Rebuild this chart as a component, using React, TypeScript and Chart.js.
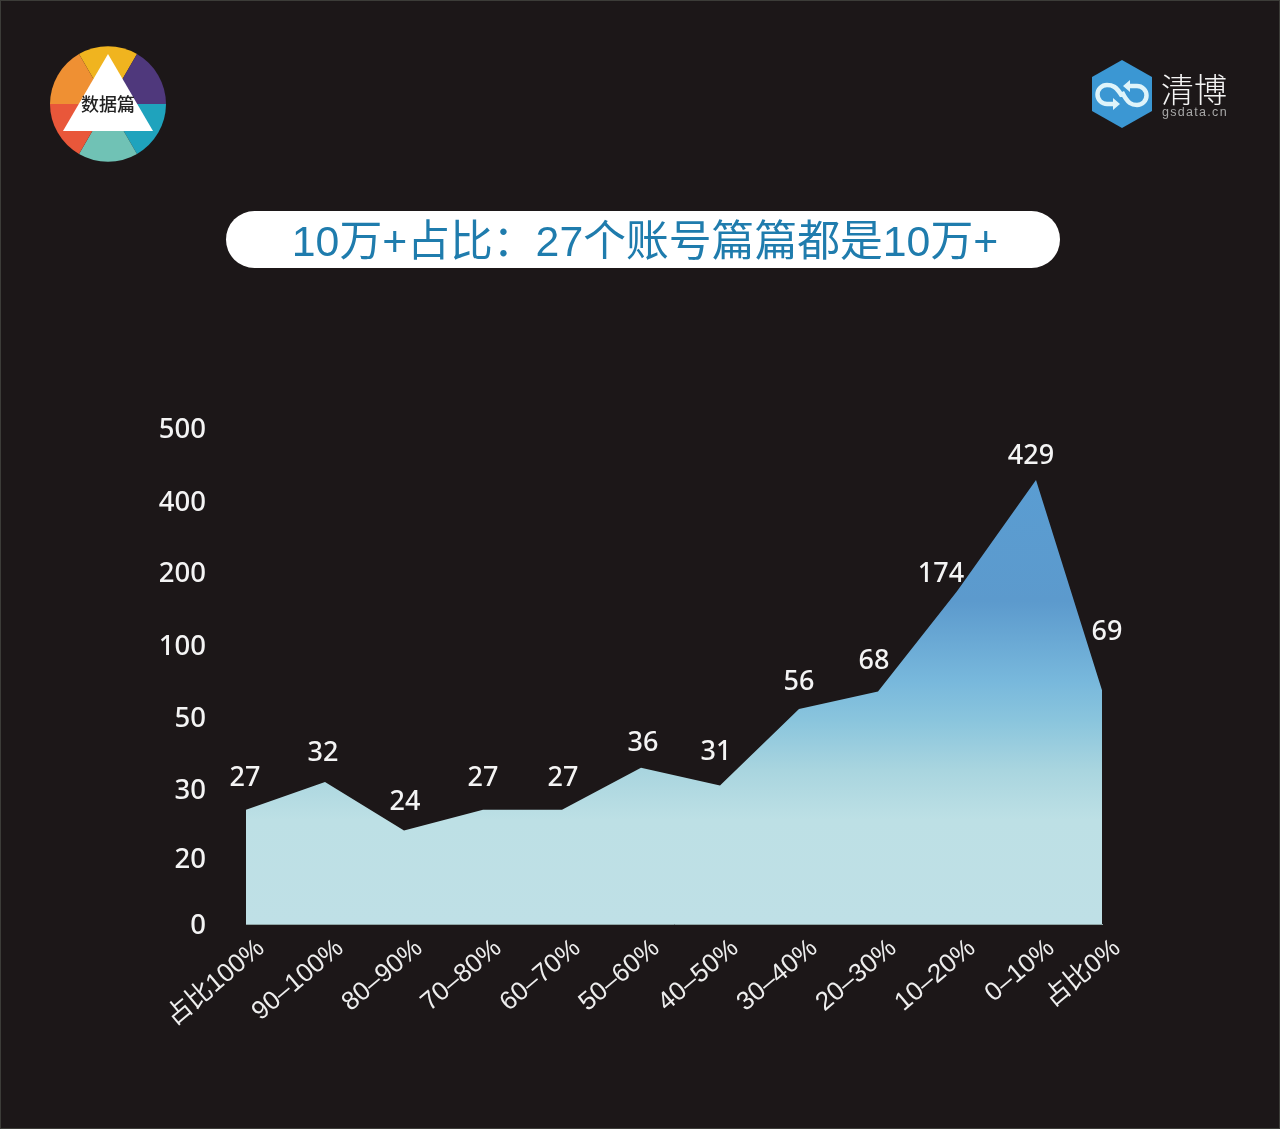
import { useEffect, useRef } from 'react'
import { Chart, registerables, CategoryScale, LinearScale } from 'chart.js'

const categories = ['占比100%', '90–100%', '80–90%', '70–80%', '60–70%', '50–60%', '40–50%', '30–40%', '20–30%', '10–20%', '0–10%', '占比0%']
const accounts = [27, 32, 24, 27, 27, 36, 31, 56, 68, 174, 429, 69]
const yTicks = [0, 20, 30, 50, 100, 200, 400, 500]
// the source axis is not linear, each tick sits at its own height (share of the axis)
const yTickShare = [0, 0.133, 0.272, 0.416, 0.562, 0.709, 0.852, 1]
const labelNudgeX = [-1, -2, 1, 0, 1, 2, -4, 0, -4, -16, -5, 5]
const labelNudgeY = [-31, -29, -28, -31, -31, -24, -33, -27, -30, -17, -24, -58]

const TITLE = '10万+占比：27个账号篇篇都是10万+'
const LABEL_FONT = '"Noto Sans", sans-serif'

class StopScale extends LinearScale {
  static id = 'stops'
  static defaults = LinearScale.defaults
  buildTicks() {
    return yTicks.map((value) => ({ value }))
  }
  getPixelForValue(value: number) {
    let i = 0
    while (i < yTicks.length - 2 && value > yTicks[i + 1]) i++
    const t = (value - yTicks[i]) / (yTicks[i + 1] - yTicks[i])
    const share = yTickShare[i] + t * (yTickShare[i + 1] - yTickShare[i])
    return this.bottom - share * (this.bottom - this.top)
  }
}

// categories keep a fixed step, the last one gets cut off by the right edge
class CutCategoryScale extends CategoryScale {
  static id = 'cutCategory'
  static defaults = CategoryScale.defaults
  getPixelForValue(value: any) {
    const i = typeof value === 'number' ? value : this.parse(value)
    return Math.min(this.left + (i as number) * 79, this.right)
  }
}

Chart.register(...registerables, StopScale, CutCategoryScale)

const dataLabels = {
  id: 'dataLabels',
  afterDatasetsDraw(chart: Chart) {
    const { ctx } = chart
    const points = chart.getDatasetMeta(0).data
    ctx.save()
    ctx.font = `500 27px ${LABEL_FONT}`
    ctx.fillStyle = '#f4f4f4'
    ctx.textAlign = 'center'
    ctx.textBaseline = 'middle'
    points.forEach((p, i) => {
      ctx.fillText(String(accounts[i]), p.x + labelNudgeX[i], p.y + labelNudgeY[i])
    })
    ctx.restore()
  },
}

function Logos() {
  return (
    <svg width={1280} height={1129} style={{ position: 'absolute', left: 0, top: 0 }}>
      <g>
        <path d="M108 104 L79 54 A58 58 0 0 1 137 54 Z" fill="#f0b41f" />
        <path d="M108 104 L137 54 A58 58 0 0 1 166 104 Z" fill="#4f387c" />
        <path d="M108 104 L166 104 A58 58 0 0 1 137 154 Z" fill="#1fa3bd" />
        <path d="M108 104 L137 154 A58 58 0 0 1 79 154 Z" fill="#70c2b5" />
        <path d="M108 104 L79 154 A58 58 0 0 1 50 104 Z" fill="#e9573a" />
        <path d="M108 104 L50 104 A58 58 0 0 1 79 54 Z" fill="#ef9033" />
        <path d="M108 54 L153 131 L63 131 Z" fill="#ffffff" />
        <text x={108} y={111} textAnchor="middle" fontSize={18} fontWeight={500} fontFamily='"Noto Sans CJK SC"' fill="#222">数据篇</text>
      </g>
      <g>
        <path d="M1122 60 L1152 77 L1152 111 L1122 128 L1092 111 L1092 77 Z" fill="#3b97d3" />
        <path
          d="M1122 96 C1116 86 1112 85 1107 85 A9.5 9.5 0 0 0 1107 104 L1113 104 M1122 92 C1128 104 1132 105 1137 105 A9.5 9.5 0 0 0 1137 86 L1130 86"
          fill="none"
          stroke="#dff4fa"
          strokeWidth={4.5}
        />
        <path d="M1113 98 L1120 104 L1113 110 Z M1130 80 L1123 86 L1130 92 Z" fill="#dff4fa" />
        <text x={1161} y={102} fontSize={33} fontFamily='"Noto Sans CJK SC"' fontWeight={300} fill="#f4f4f4">清博</text>
        <text x={1162} y={116} fontSize={12.5} fontFamily='"Liberation Sans"' letterSpacing={1.3} fill="#a8a8a8">gsdata.cn</text>
      </g>
    </svg>
  )
}

export default function App() {
  const canvasRef = useRef<HTMLCanvasElement>(null)

  useEffect(() => {
    if (!canvasRef.current) return
    const chart = new Chart(canvasRef.current, {
      type: 'line',
      data: {
        labels: categories,
        datasets: [
          {
            label: '账号数',
            data: accounts,
            fill: 'origin',
            borderWidth: 0,
            pointRadius: 0,
            tension: 0,
            backgroundColor: (c: any) => {
              const area = c.chart.chartArea
              if (!area) return '#bde0e5'
              const g = c.chart.ctx.createLinearGradient(0, area.top, 0, area.bottom)
              g.addColorStop(0.1, '#5a9dd2')
              g.addColorStop(0.35, '#5c9acd')
              g.addColorStop(0.51, '#78b8dc')
              g.addColorStop(0.59, '#8ac5dd')
              g.addColorStop(0.69, '#a9d5df')
              g.addColorStop(0.79, '#bde0e5')
              g.addColorStop(1, '#bfe0e6')
              return g
            },
          },
        ],
      },
      options: {
        animation: false,
        responsive: false,
        layout: { padding: { top: 428, left: 0, right: 178, bottom: 0 } },
        plugins: { legend: { display: false }, tooltip: { enabled: false } },
        scales: {
          x: {
            type: 'cutCategory' as any,
            offset: false,
            afterFit: (s: any) => {
              s.height = 205
            },
            grid: { display: false, drawTicks: false },
            border: { display: true, color: '#8fa6a6', width: 1 },
            ticks: {
              color: '#eeeeee',
              autoSkip: false,
              minRotation: 40,
              maxRotation: 40,
              padding: 9,
              labelOffset: 15,
              font: { family: '"Liberation Sans", "Noto Sans CJK SC"', size: 26 },
            },
          },
          y: {
            type: 'stops' as any,
            min: 0,
            max: 500,
            afterFit: (s: any) => {
              s.width = 246
            },
            grid: { display: false, drawTicks: false },
            border: { display: false },
            ticks: {
              color: '#f4f4f4',
              autoSkip: false,
              padding: 40,
              labelOffset: 2,
              callback: (v: any) => String(v),
              font: { family: LABEL_FONT, size: 27.5, weight: 500 },
            },
          },
        },
      },
      plugins: [dataLabels],
    })
    return () => chart.destroy()
  }, [])

  return (
    <div
      style={{
        position: 'fixed',
        left: 0,
        top: 0,
        width: 1280,
        height: 1129,
        background: '#1c1718',
        boxShadow: 'inset 0 0 0 1px #3c3c38',
        overflow: 'hidden',
      }}
    >
      <canvas ref={canvasRef} width={1280} height={1129} style={{ position: 'absolute', left: 0, top: 0, display: 'block' }} />
      <Logos />
      <div
        style={{
          position: 'absolute',
          left: 226,
          top: 211,
          width: 834,
          height: 57,
          borderRadius: 28.5,
          background: '#ffffff',
          color: '#1f7cad',
          textAlign: 'center',
          textIndent: 4,
          lineHeight: '60px',
          fontSize: 42.8,
          fontFamily: '"Liberation Sans", "Noto Sans CJK SC"',
          whiteSpace: 'nowrap',
        }}
      >
        {TITLE}
      </div>
    </div>
  )
}
